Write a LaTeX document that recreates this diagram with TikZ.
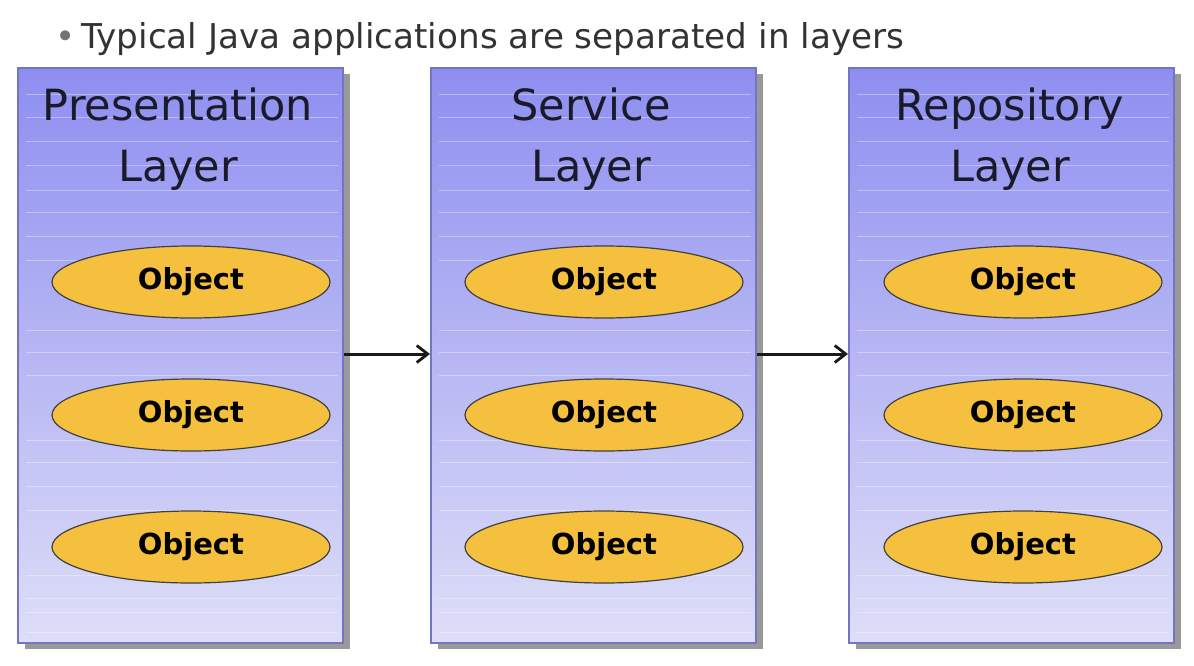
\documentclass[tikz,border=0pt]{standalone}
\usepackage{fontspec}
\setmainfont{DejaVu Sans}
\usetikzlibrary{shapes.geometric,shadows,arrows.meta}
\definecolor{boxtop}{HTML}{8E8EF0}
\definecolor{boxbot}{HTML}{DEDEF8}
\definecolor{boxedge}{HTML}{7474C4}
\definecolor{objfill}{HTML}{F5C03E}
\definecolor{txt}{HTML}{1A1A2A}
\tikzset{
  layerbox/.style={draw=boxedge, line width=2pt, rectangle, minimum width=325pt, minimum height=575pt,
    top color=boxtop, bottom color=boxbot, anchor=north west, inner sep=0pt,
    drop shadow={shadow xshift=7pt, shadow yshift=-6pt, fill=black!40, opacity=1}},
  layertitle/.style={font=\fontsize{43}{50}\selectfont, text=txt, anchor=base, inner sep=0pt},
  obj/.style={ellipse, draw=black!75, line width=1.2pt, fill=objfill, minimum width=278pt, minimum height=72pt,
    font=\fontsize{29}{34}\selectfont\bfseries, text=black, inner sep=0pt},
  conn/.style={draw=black!90, line width=3pt, -{Straight Barb[length=11pt,width=17pt,line width=2.8pt]}},
  stripe/.style={draw=white, opacity=0.35, line width=1pt}
}
\begin{document}
\begin{tikzpicture}[x=1pt,y=-1pt]
\useasboundingbox (0,0) rectangle (1194,666);
\fill[white] (0,0) rectangle (1194,666);
\node[anchor=base west, font=\fontsize{34.2}{40}\selectfont, text=black!80, inner sep=0pt] (title) at (55,49) {{\color{black!55}\textbullet}\,Typical Java applications are separated in layers};
% boxes
\node[layerbox] (L1) at (17,67) {};
\node[layerbox] (L2) at (430,67) {};
\node[layerbox] (L3) at (848,67) {};
% stripes
\foreach \bx in {17,430,848}{
  \foreach \yy in {95,118,142,165,190,212,236,260,330,352,375,440,462,486,510,575,598,612,632}{
    \draw[stripe] (\bx+9,\yy) -- (\bx+321,\yy);
  }
}
\node[layertitle] (t1a) at (178,121) {Presentation};
\node[layertitle] (t1b) at (178,181) {Layer};
\node[layertitle] (t2a) at (591,121) {Service};
\node[layertitle] (t2b) at (591,181) {Layer};
\node[layertitle] (t3a) at (1010,121) {Repository};
\node[layertitle] (t3b) at (1010,181) {Layer};
% objects
\node[obj] (o11) at (191,282) {Object};
\node[obj] (o12) at (191,415) {Object};
\node[obj] (o13) at (191,547) {Object};
\node[obj] (o21) at (604,282) {Object};
\node[obj] (o22) at (604,415) {Object};
\node[obj] (o23) at (604,547) {Object};
\node[obj] (o31) at (1023,282) {Object};
\node[obj] (o32) at (1023,415) {Object};
\node[obj] (o33) at (1023,547) {Object};
% connectors
\coordinate (a1s) at (L1.east |- 0,354);
\coordinate (a1e) at (L2.west |- 0,354);
\coordinate (a2s) at (L2.east |- 0,354);
\coordinate (a2e) at (L3.west |- 0,354);
\draw[conn] (a1s) -- (a1e);
\draw[conn] (a2s) -- (a2e);
\end{tikzpicture}
\end{document}
